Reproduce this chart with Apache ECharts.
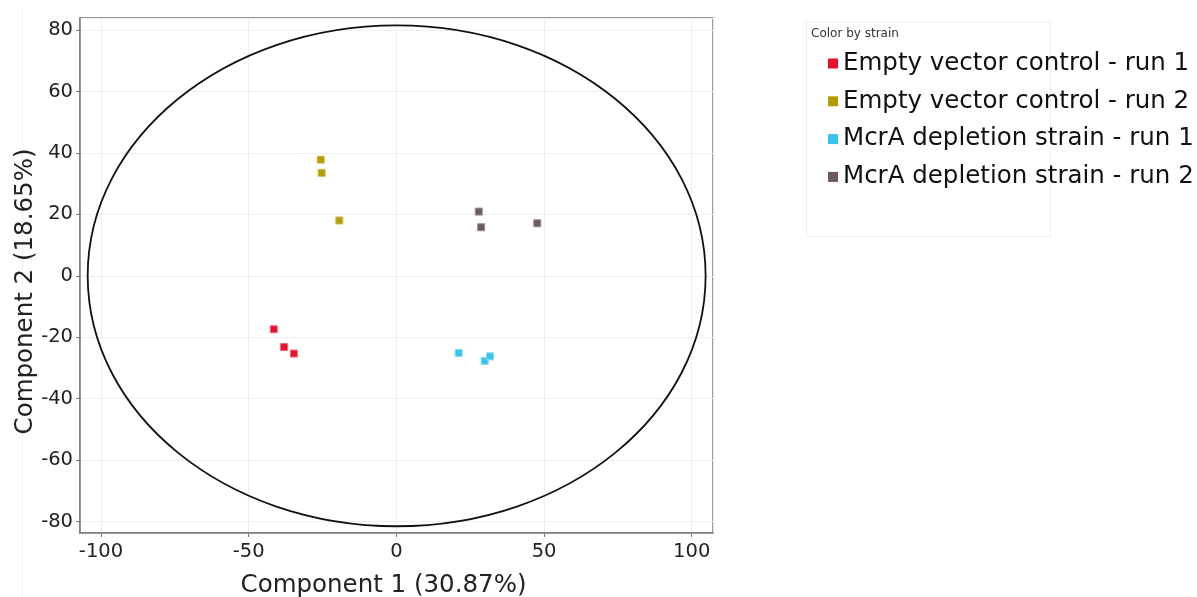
<!DOCTYPE html>
<html>
<head>
<meta charset="utf-8">
<script src="https://cdn.jsdelivr.net/npm/echarts@6/dist/echarts.min.js"></script>
<style>
html,body{margin:0;padding:0;background:#fff;}
#chart{width:1197px;height:597px;}
</style>
</head>
<body>
<div id="chart"></div>
<script>
// ---- data ----
const seriesNames = [
  'Empty vector control - run 1',
  'Empty vector control - run 2',
  'McrA depletion strain - run 1',
  'McrA depletion strain - run 2'
];
const emptyRun1 = [[-41.5, -17.4], [-38.0, -23.2], [-34.7, -25.3]];
const emptyRun2 = [[-25.6, 37.8], [-25.3, 33.5], [-19.3, 18.0]];
const mcraRun1  = [[21.1, -25.1], [29.9, -27.7], [31.7, -26.2]];
const mcraRun2  = [[27.9, 20.9], [28.7, 15.8], [47.7, 17.1]];
const ellipse   = [[0.1, 0, 104.6, 81.5]]; // centre x, centre y, semi-axis x, semi-axis y
const xTitle = 'Component 1 (30.87%)';
const yTitle = 'Component 2 (18.65%)';
const legendTitle = 'Color by strain';

const colors = ['#e8112d', '#b49d00', '#38c4ec', '#6b5b5e'];
const borders = ['#f06a78', '#cdbd55', '#86daf2', '#9a8c8e'];
const allData = [emptyRun1, emptyRun2, mcraRun1, mcraRun2];

const font = 'DejaVu Sans';
const chart = echarts.init(document.getElementById('chart'), null, {renderer: 'canvas'});

const scatterSeries = seriesNames.map((name, i) => ({
  name: name,
  type: 'scatter',
  data: allData[i],
  symbol: 'rect',
  symbolSize: 7,
  itemStyle: {color: colors[i], borderColor: borders[i], borderWidth: 1, opacity: 1},
  z: 3
}));

chart.setOption({
  animation: false,
  backgroundColor: '#fff',
  textStyle: {fontFamily: font},
  grid: {
    left: 80, right: 484, top: 18, bottom: 64,
    outerBoundsMode: 'none', containLabel: false,
    show: true, borderColor: '#7a7a7a', borderWidth: 1.5, backgroundColor: 'transparent'
  },
  xAxis: {
    type: 'value', min: -107.1, max: 107.2, splitNumber: 4,
    name: xTitle, nameLocation: 'middle', nameGap: 40, nameMoveOverlap: false,
    nameTextStyle: {fontSize: 24.5, color: '#222', fontFamily: font, padding: [0, 26, 0, 0]},
    axisLine: {show: true, onZero: false, lineStyle: {color: '#7a7a7a', width: 1.5}},
    axisTick: {show: true, length: 4, lineStyle: {color: '#7a7a7a'}},
    axisLabel: {fontSize: 19.5, color: '#222', margin: 9, showMinLabel: false, showMaxLabel: false, fontFamily: font},
    splitLine: {show: true, lineStyle: {color: '#efefef', width: 1}}
  },
  yAxis: {
    type: 'value', min: -83.7, max: 83.9, splitNumber: 8,
    name: yTitle, nameLocation: 'middle', nameGap: 42, nameMoveOverlap: false,
    nameTextStyle: {fontSize: 24.5, color: '#222', fontFamily: font, padding: [0, 32, 0, 0]},
    axisLine: {show: true, onZero: false, lineStyle: {color: '#7a7a7a', width: 1.5}},
    axisTick: {show: true, length: 4, lineStyle: {color: '#7a7a7a'}},
    axisLabel: {fontSize: 19.5, color: '#222', margin: 7, showMinLabel: false, showMaxLabel: false, fontFamily: font},
    splitLine: {show: true, lineStyle: {color: '#efefef', width: 1}}
  },
  legend: {
    data: seriesNames.map(n => ({name: n, icon: 'rect'})),
    orient: 'vertical',
    left: 828, top: 51,
    padding: 0,
    itemWidth: 10, itemHeight: 10,
    itemGap: 12.8,
    textStyle: {fontSize: 24.5, color: '#111', fontFamily: font, lineHeight: 24.5},
    itemStyle: {borderWidth: 0}
  },
  graphic: [
    {type: 'rect', shape: {x: 806.5, y: 22.5, width: 244, height: 214}, style: {fill: 'none', stroke: '#efefef', lineWidth: 1}, z: 0},
    {type: 'line', shape: {x1: 22.5, y1: 8, x2: 22.5, y2: 597}, style: {stroke: '#f0f0f0', lineWidth: 1}, z: 0},
    {type: 'text', left: 811, top: 28, style: {text: legendTitle, font: '12px "DejaVu Sans"', fill: '#333'}}
  ],
  series: [
    {
      type: 'custom',
      name: 'ellipse',
      data: ellipse,
      silent: true,
      clip: false,
      z: 2,
      encode: {x: 0, y: 1},
      renderItem: function (params, api) {
        const c = api.coord([api.value(0), api.value(1)]);
        const s = api.size([api.value(2), api.value(3)]);
        return {
          type: 'ellipse',
          shape: {cx: c[0], cy: c[1], rx: s[0], ry: s[1]},
          style: {fill: 'none', stroke: '#111', lineWidth: 1.8}
        };
      }
    }
  ].concat(scatterSeries)
});
</script>
</body>
</html>
